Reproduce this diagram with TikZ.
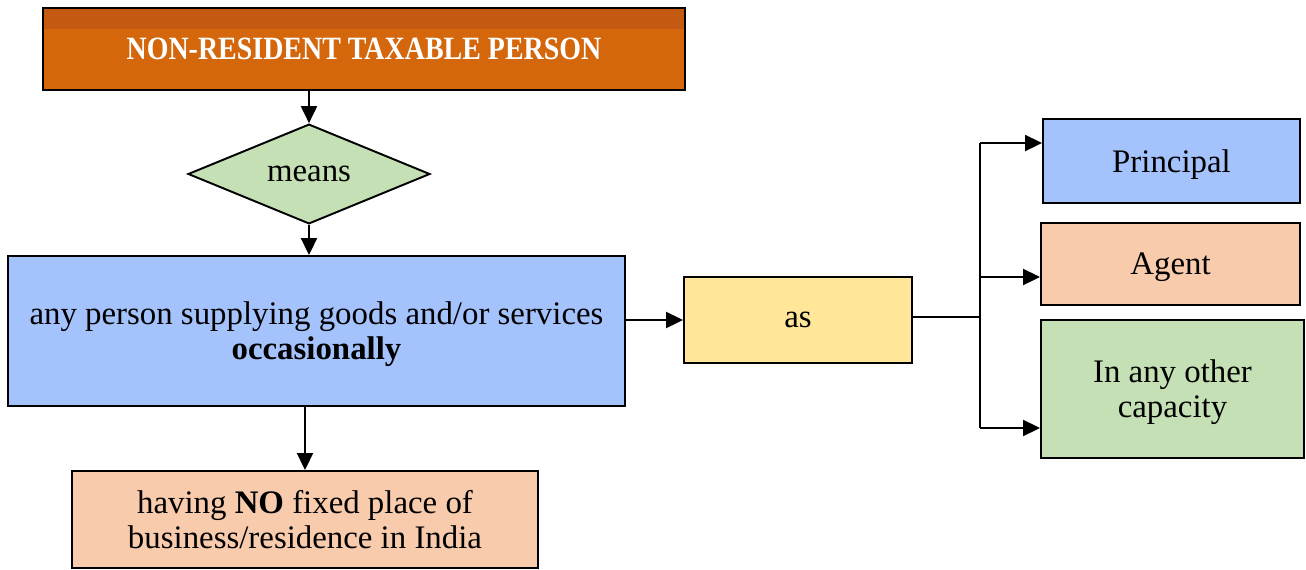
\documentclass[tikz,border=0pt]{standalone}
\usepackage{fontspec}
\setmainfont{Liberation Serif}
\usetikzlibrary{positioning, calc, shapes.geometric, arrows.meta}
\definecolor{TitleOrange}{HTML}{D4660B}
\definecolor{TitleBand}{HTML}{C45A12}
\definecolor{SoftGreen}{HTML}{C5E0B4}
\definecolor{SoftBlue}{HTML}{A4C2FC}
\definecolor{SoftPeach}{HTML}{F7CBAC}
\definecolor{SoftYellow}{HTML}{FFE699}

\begin{document}
\begin{tikzpicture}[
    x=0.02cm, y=-0.02cm,
    font=\fontsize{18.7}{20}\selectfont,
    box/.style={rectangle, draw=black, line width=1.1pt, align=center, inner sep=2pt, text depth=0pt},
    decision/.style={diamond, draw=black, line width=1.1pt, fill=SoftGreen, inner sep=0pt, minimum width=4.84cm, minimum height=1.74cm},
    arrow/.style={-{Triangle[length=0.34cm, width=0.32cm]}, line width=1.1pt, color=black},
    link/.style={line width=1.1pt, color=black}
]
    \useasboundingbox (0,0) rectangle (1306,569);

    \node (title) [box, fill=TitleOrange, minimum width=12.84cm, minimum height=1.64cm,
        path picture={\fill[TitleBand] (path picture bounding box.north west) rectangle ([yshift=-0.42cm]path picture bounding box.north east);}]
        at (364,49) {};
    \node (titletext) [text=white, font=\fontsize{18.5}{20}\selectfont\bfseries] at (title)
        {\scalebox{0.86}[1]{NON-RESIDENT TAXABLE PERSON}};
    \node (means) [decision] at (309,174) {means};
    \node (person) [box, fill=SoftBlue, minimum width=12.34cm, minimum height=3.0cm] at (316.5,331)
        {any person supplying goods and/or services\\\textbf{occasionally}};
    \node (noplace) [box, fill=SoftPeach, minimum width=9.32cm, minimum height=1.94cm] at (305,519.5)
        {having \textbf{NO} fixed place of\\business/residence in India};
    \node (as) [box, fill=SoftYellow, minimum width=4.56cm, minimum height=1.72cm] at (798,320) {as};
    \node (principal) [box, fill=SoftBlue, minimum width=5.14cm, minimum height=1.68cm] at (1171.5,161) {Principal};
    \node (agent) [box, fill=SoftPeach, minimum width=5.18cm, minimum height=1.64cm] at (1170.5,264) {Agent};
    \node (other) [box, fill=SoftGreen, minimum width=5.26cm, minimum height=2.76cm] at (1172.5,389) {In any other\\capacity};

    \coordinate (split) at (980,317);
    \coordinate (toprinc) at ([yshift=0.36cm]principal.west);
    \coordinate (toagent) at ([yshift=-0.26cm]agent.west);
    \coordinate (toother) at ([yshift=-0.78cm]other.west);

    \draw[arrow] (means.north |- title.south) -- (means.north);
    \draw[arrow] (means.south) -- (means.south |- person.north);
    \draw[arrow] (noplace.north |- person.south) -- (noplace.north);
    \draw[arrow] (as.west -| person.east) -- (as.west);
    \draw[link] (as.east |- split) -- (split);
    \draw[link] (split |- toprinc) -- (split |- toother);
    \draw[arrow] (split |- toprinc) -- (toprinc);
    \draw[arrow] (split |- toagent) -- (toagent);
    \draw[arrow] (split |- toother) -- (toother);
\end{tikzpicture}
\end{document}
